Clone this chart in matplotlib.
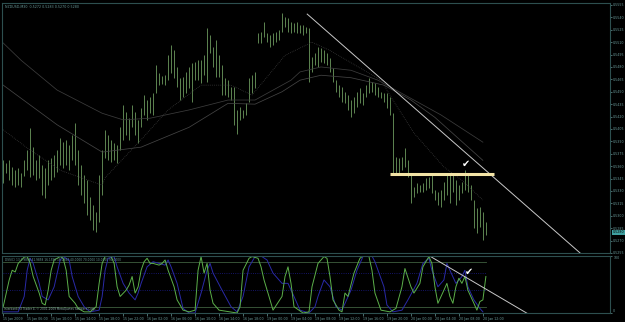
import matplotlib.pyplot as plt
import matplotlib.transforms as mtransforms

# half-hour bars, NZDUSD
highs = [0.5367, 0.5364, 0.5367, 0.5359, 0.5355, 0.5358, 0.5352, 0.5367, 0.5379, 0.5406,
         0.5383, 0.5367, 0.5373, 0.5361, 0.5358, 0.5367, 0.5370, 0.5373, 0.5380, 0.5394,
         0.5389, 0.5392, 0.5385, 0.5398, 0.5412, 0.5380, 0.5361, 0.5349, 0.5343, 0.5323,
         0.5313, 0.5305, 0.5349, 0.5380, 0.5404, 0.5398, 0.5392, 0.5388, 0.5385, 0.5407,
         0.5434, 0.5426, 0.5418, 0.5434, 0.5426, 0.5416, 0.5430, 0.5446, 0.5440, 0.5444,
         0.5448, 0.5482, 0.5473, 0.5469, 0.5470, 0.5494, 0.5506, 0.5500, 0.5480, 0.5467,
         0.5468, 0.5474, 0.5480, 0.5485, 0.5486, 0.5488, 0.5488, 0.5494, 0.5527, 0.5519,
         0.5504, 0.5513, 0.5494, 0.5482, 0.5467, 0.5464, 0.5456, 0.5456, 0.5428, 0.5432,
         0.5428, 0.5436, 0.5467, 0.5470, 0.5474, 0.5521, 0.5522, 0.5534, 0.5521, 0.5519,
         0.5521, 0.5522, 0.5525, 0.5545, 0.5540, 0.5539, 0.5534, 0.5533, 0.5534, 0.5531,
         0.5531, 0.5528, 0.5527, 0.5492, 0.5497, 0.5504, 0.5503, 0.5500, 0.5497, 0.5491,
         0.5479, 0.5464, 0.5458, 0.5456, 0.5450, 0.5446, 0.5440, 0.5444, 0.5450, 0.5454,
         0.5448, 0.5458, 0.5467, 0.5462, 0.5461, 0.5456, 0.5450, 0.5448, 0.5448, 0.5444,
         0.5424, 0.5371, 0.5370, 0.5371, 0.5382, 0.5367, 0.5349, 0.5335, 0.5340, 0.5337,
         0.5340, 0.5346, 0.5347, 0.5349, 0.5331, 0.5329, 0.5331, 0.5341, 0.5349, 0.5349,
         0.5352, 0.5343, 0.5337, 0.5341, 0.5355, 0.5349, 0.5337, 0.5319, 0.5309, 0.5311,
         0.5305, 0.5292]
lows = [0.5340, 0.5352, 0.5343, 0.5337, 0.5335, 0.5337, 0.5335, 0.5348, 0.5355, 0.5347,
        0.5349, 0.5343, 0.5346, 0.5325, 0.5321, 0.5337, 0.5343, 0.5347, 0.5353, 0.5361,
        0.5358, 0.5361, 0.5355, 0.5367, 0.5361, 0.5337, 0.5325, 0.5315, 0.5301, 0.5295,
        0.5283, 0.5280, 0.5292, 0.5325, 0.5370, 0.5367, 0.5365, 0.5367, 0.5364, 0.5380,
        0.5392, 0.5398, 0.5392, 0.5407, 0.5398, 0.5388, 0.5407, 0.5422, 0.5416, 0.5424,
        0.5422, 0.5448, 0.5458, 0.5459, 0.5458, 0.5464, 0.5473, 0.5467, 0.5456, 0.5440,
        0.5444, 0.5448, 0.5454, 0.5438, 0.5464, 0.5464, 0.5461, 0.5470, 0.5462, 0.5497,
        0.5480, 0.5468, 0.5468, 0.5446, 0.5446, 0.5444, 0.5440, 0.5410, 0.5399, 0.5416,
        0.5418, 0.5422, 0.5438, 0.5448, 0.5454, 0.5509, 0.5509, 0.5516, 0.5510, 0.5504,
        0.5506, 0.5510, 0.5513, 0.5522, 0.5528, 0.5522, 0.5521, 0.5522, 0.5521, 0.5521,
        0.5519, 0.5521, 0.5462, 0.5474, 0.5482, 0.5480, 0.5486, 0.5485, 0.5482, 0.5474,
        0.5462, 0.5450, 0.5444, 0.5438, 0.5436, 0.5428, 0.5419, 0.5424, 0.5432, 0.5436,
        0.5434, 0.5444, 0.5448, 0.5450, 0.5446, 0.5444, 0.5442, 0.5438, 0.5430, 0.5422,
        0.5349, 0.5349, 0.5352, 0.5355, 0.5359, 0.5347, 0.5315, 0.5323, 0.5328, 0.5329,
        0.5329, 0.5331, 0.5334, 0.5328, 0.5319, 0.5313, 0.5311, 0.5319, 0.5325, 0.5315,
        0.5329, 0.5313, 0.5319, 0.5328, 0.5331, 0.5329, 0.5319, 0.5285, 0.5279, 0.5286,
        0.5271, 0.5277]

# moving averages (bar index, value)
ma_slow_bars = [0, 6, 18, 33, 40, 49, 62, 75, 84, 96, 99, 106, 116, 125, 133, 146, 160]
ma_slow = [0.5509, 0.5488, 0.5452, 0.5424, 0.5416, 0.5418, 0.5428, 0.5440, 0.5440, 0.5464,
           0.5474, 0.5480, 0.5476, 0.5464, 0.5448, 0.5422, 0.5389]
ma_mid_bars = [0, 18, 33, 46, 62, 75, 84, 93, 99, 106, 116, 127, 136, 144, 160]
ma_mid = [0.5458, 0.5410, 0.5377, 0.5383, 0.5407, 0.5436, 0.5435, 0.5450, 0.5464, 0.5470,
          0.5467, 0.5458, 0.5440, 0.5419, 0.5367]
ma_fast_bars = [0, 8, 19, 33, 34, 46, 55, 66, 76, 83, 94, 103, 109, 126, 130, 137, 147, 153, 160]
ma_fast = [0.5404, 0.5382, 0.5355, 0.5337, 0.5346, 0.5392, 0.5428, 0.5458, 0.5458, 0.5446,
           0.5494, 0.5510, 0.5500, 0.5464, 0.5440, 0.5400, 0.5359, 0.5343, 0.5319]

# DSS oscillator
green_bars = [0, 2, 3, 4, 5, 7, 8, 9, 10, 12, 13, 14, 15, 16, 17, 19, 20, 21, 22, 23,
              24, 25, 27, 29, 31, 32, 33, 34, 36, 37, 38, 39, 41, 42, 43, 44, 45, 46, 47, 48,
              49, 50, 52, 53, 54, 55, 57, 58, 60, 62, 64, 65, 66, 67, 68, 69, 70, 72, 78, 79,
              80, 82, 83, 85, 86, 87, 89, 90, 93, 94, 95, 96, 97, 100, 102, 103, 105, 107, 108, 109,
              110, 112, 113, 114, 115, 117, 119, 120, 122, 123, 124, 126, 129, 131, 133, 134, 136, 137, 139, 140,
              142, 143, 144, 145, 147, 148, 149, 150, 151, 152, 153, 154, 155, 157, 158, 159, 160, 161]
green = [11, 58, 75, 72, 87, 98, 99, 87, 64, 35, 17, 14, 40, 75, 93, 99, 96, 75, 29, 23,
         17, 8, 2, 2, 11, 52, 87, 99, 99, 87, 46, 29, 40, 49, 64, 35, 46, 75, 90, 96,
         87, 87, 84, 87, 93, 75, 46, 23, 5, 2, 5, 75, 99, 70, 87, 40, 17, 5, 0, 11,
         75, 96, 99, 96, 81, 58, 23, 5, 29, 64, 81, 52, 11, 0, 2, 46, 87, 99, 96, 64,
         23, 5, 2, 35, 29, 70, 96, 100, 99, 75, 35, 5, 2, 8, 46, 78, 46, 35, 52, 81,
         99, 87, 46, 17, 40, 52, 29, 17, 46, 61, 52, 64, 40, 17, 5, 20, 23, 64]
blue_bars = [0, 5, 7, 8, 9, 10, 12, 13, 15, 17, 19, 20, 22, 23, 25, 27, 29, 32, 33, 34,
             35, 37, 38, 40, 42, 44, 45, 46, 48, 50, 52, 54, 55, 56, 58, 60, 62, 64, 66, 68,
             69, 70, 73, 76, 78, 80, 82, 84, 86, 88, 90, 93, 95, 97, 99, 102, 104, 105, 107, 109,
             111, 113, 116, 118, 120, 123, 124, 127, 128, 130, 133, 135, 138, 140, 142, 143, 145, 147, 148, 149,
             151, 153, 154, 155, 157, 159, 160]
blue = [2, 2, 29, 75, 96, 87, 52, 29, 23, 46, 93, 99, 93, 64, 29, 11, 2, 5, 29, 75,
        96, 99, 81, 52, 35, 23, 35, 52, 81, 90, 87, 84, 93, 81, 52, 8, 0, 0, 35, 75,
        87, 70, 40, 11, 2, 29, 81, 99, 100, 93, 70, 52, 52, 29, 5, 0, 11, 29, 58, 46,
        11, 5, 40, 75, 99, 100, 90, 46, 14, 2, 5, 23, 52, 87, 96, 75, 46, 58, 87, 75,
        52, 64, 75, 46, 23, 8, 2]
dss_levels = [90, 70, 40, 10]

time_labels = ['15 Jan 2009', '15 Jan 06:00', '15 Jan 10:00', '15 Jan 14:00', '15 Jan 18:00',
               '15 Jan 22:00', '16 Jan 02:00', '16 Jan 06:00', '16 Jan 10:00', '16 Jan 14:00',
               '16 Jan 18:00', '19 Jan 00:00', '19 Jan 04:00', '19 Jan 08:00', '19 Jan 12:00',
               '19 Jan 16:00', '19 Jan 20:00', '20 Jan 00:00', '20 Jan 04:00', '20 Jan 08:00',
               '20 Jan 12:00']
price_ticks = [0.5555 - 0.0015 * k for k in range(21)]
last_price = 0.5280

# drawn objects
trend_bars = [101.4, 192.4]
trend_prices = [0.5544, 0.5255]
support_bars = [129, 163.7]
support_price = 0.5350
dss_trend_bars = [141.7, 175.7]
dss_trend_vals = [101.7, -3.5]
check_main = (154.4, 0.5363)
check_sub = (155.4, 72)

W, H = 625, 322
FRAME = '#2d4f4f'
TXT = '#6a9a9a'
FS = 2.3


def box(l, t, r, b):
    return [l / W, 1 - b / H, (r - l) / W, (b - t) / H]


fig = plt.figure(figsize=(W / 100, H / 100), dpi=100, facecolor='black')
ax = fig.add_axes(box(2, 3, 610, 253))
sub = fig.add_axes(box(2, 256, 610, 313), sharex=ax)

for a in (ax, sub):
    a.set_facecolor('black')
    for s in a.spines.values():
        s.set_color(FRAME)
        s.set_linewidth(0.8)
    a.yaxis.tick_right()
    a.tick_params(colors=TXT, labelsize=FS, length=1.5, width=0.5, pad=0.8)

idx = list(range(len(highs)))
ax.vlines(idx, lows, highs, color='#76a866', lw=0.55)
ax.plot(ma_slow_bars, ma_slow, color='#3c3c3c', lw=0.55)
ax.plot(ma_mid_bars, ma_mid, color='#444444', lw=0.55)
ax.plot(ma_fast_bars, ma_fast, color='#404040', lw=0.55, ls=(0, (1, 1.5)))
ax.plot(trend_bars, trend_prices, color='#c8c8c8', lw=0.7)
ax.plot(support_bars, [support_price] * 2, color='#f3e4a6', lw=2.2, solid_capstyle='butt')
ax.text(*check_main, '\u2714', color='white', fontsize=7, ha='center', va='center')

ax.set_xlim(-0.4, 202.4)
ax.set_ylim(0.52549, 0.55574)
ax.set_yticks(price_ticks)
ax.set_yticklabels(['%.4f' % p for p in price_ticks])
ax.tick_params(axis='x', bottom=False, labelbottom=False)
ax.text(0.005, 0.99, 'NZDUSD,M30  0.5272 0.5283 0.5270 0.5280', transform=ax.transAxes,
        color=TXT, fontsize=FS, va='top')
tr = mtransforms.blended_transform_factory(ax.transAxes, ax.transData)
ax.text(1.004, last_price, '%.4f' % last_price, transform=tr, fontsize=FS, color='black',
        va='center', bbox=dict(boxstyle='square,pad=0.15', fc='#3fa0a0', ec='none'))

for lv, c, st in zip(dss_levels, ['#3f5f3f', '#1c1c8a', '#1c1c8a', '#3f5f3f'],
                     ['-', ':', ':', '-']):
    sub.plot([0, len(highs) - 1], [lv, lv], color=c, lw=0.6, ls=st)
sub.plot(blue_bars, blue, color='#2a2aa8', lw=0.7)
sub.plot(green_bars, green, color='#5cb04a', lw=0.7)
sub.plot(dss_trend_bars, dss_trend_vals, color='#c8c8c8', lw=0.7)
sub.text(*check_sub, '\u2714', color='white', fontsize=7, ha='center', va='center')
sub.set_ylim(0, 100)
sub.set_yticks([0, 100])
sub.set_yticklabels(['0', '100'])
for lab, v in zip(sub.get_yticklabels(), ['bottom', 'top']):
    lab.set_va(v)
sub.set_xticks(list(range(0, len(highs), 8)))
sub.set_xticklabels(time_labels, ha='left')
sub.tick_params(axis='x', length=2, pad=1)
sub.text(0.005, 0.97, 'DSS(C) 13 0.9858 41.9858 16.1596 16.0884 40.0000 70.0000 10.0000 90.0000',
         transform=sub.transAxes, color=TXT, fontsize=2.1, va='top')
sub.text(0.003, 0.03, 'Interbank FX Trader 4, \u00a9 2001-2009 MetaQuotes Software Corp.',
         transform=sub.transAxes, color='#8aa8a8', fontsize=2.1, va='bottom')

fig.savefig('out.png', dpi=100, facecolor='black')
